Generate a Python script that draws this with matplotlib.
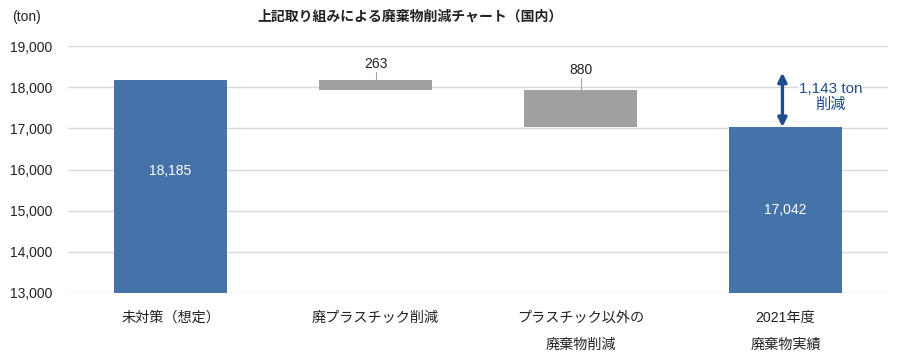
import matplotlib
matplotlib.use("Agg")
import matplotlib.pyplot as plt
from matplotlib.patches import FancyArrowPatch

plt.rcParams['font.family'] = ['Liberation Sans', 'Noto Sans CJK JP', 'DejaVu Sans']

categories = ["未対策（想定）", "廃プラスチック削減", "プラスチック以外の\n\n廃棄物削減", "2021年度\n\n廃棄物実績"]
baseline_total = 18185
reductions = [263, 880]
actual_total = 17042
reduction_total = 1143
yticks = [13000, 14000, 15000, 16000, 17000, 18000, 19000]

blue = "#4672AA"
gray = "#A0A0A0"
navy = "#1F4B8F"

fig = plt.figure(figsize=(8.99, 3.58), dpi=100)
ax = fig.add_axes([68/899, 1-293/358, 820/899, 247/358])

x = range(len(categories))
width = 0.556
# bars
ax.bar(0, baseline_total - 13000, bottom=13000, width=width, color=blue, zorder=3)
top = baseline_total
for i, r in enumerate(reductions):
    ax.bar(i + 1, r, bottom=top - r, width=width, color=gray, zorder=3)
    top -= r
ax.bar(3, actual_total - 13000, bottom=13000, width=width, color=blue, zorder=3)

# labels inside blue bars
ax.text(0, 15960, f"{baseline_total:,}", color="white", ha="center", va="center", fontsize=10, zorder=4)
ax.text(3, 15020, f"{actual_total:,}", color="white", ha="center", va="center", fontsize=10, zorder=4)

# labels for reductions with leader lines
top = baseline_total
offsets = [380, 495]
for i, r in enumerate(reductions):
    lbl_y = top + offsets[i]
    ax.plot([i + 1, i + 1], [top, lbl_y - 190], color="#A6A6A6", lw=0.8, zorder=4)
    ax.text(i + 1, lbl_y, f"{r:,}", ha="center", va="center", fontsize=10, color="#222222", zorder=4)
    top -= r

# arrow
arr = FancyArrowPatch((2.985, actual_total - 10), (2.985, 18350),
                      arrowstyle="<|-|>", mutation_scale=13, color=navy, lw=2.4, zorder=5,
                      shrinkA=0, shrinkB=0)
ax.add_patch(arr)
ax.text(3.22, 17770, f"{reduction_total:,} ton\n削減", ha="center", va="center",
        fontsize=11, color=navy, linespacing=1.15, zorder=5,
        bbox=dict(facecolor="white", edgecolor="none", pad=0.5))

ax.set_xlim(-0.5, 3.5)
ax.set_ylim(13000, 19000)
ax.set_yticks(yticks)
ax.set_yticklabels([f"{v:,}" for v in yticks], fontsize=10, color="#222222")
ax.set_xticks(list(x))
ax.set_xticklabels(categories, fontsize=10.2, color="#222222", linespacing=0.95, va="top")
ax.tick_params(axis='both', length=0)
ax.tick_params(axis='x', pad=13)
ax.tick_params(axis='y', pad=11)
ax.grid(axis='y', color="#D9D9D9", lw=1, zorder=0)
for s in ax.spines.values():
    s.set_visible(False)

fig.text(12/899, 1-17/358, "(ton)", fontsize=10, va="center", ha="left", color="#222222")
fig.text(410/899, 1-17/358, "上記取り組みによる廃棄物削減チャート（国内）", fontsize=10,
         fontweight="bold", ha="center", va="center", color="#222222")

fig.savefig("out.png", dpi=100)
